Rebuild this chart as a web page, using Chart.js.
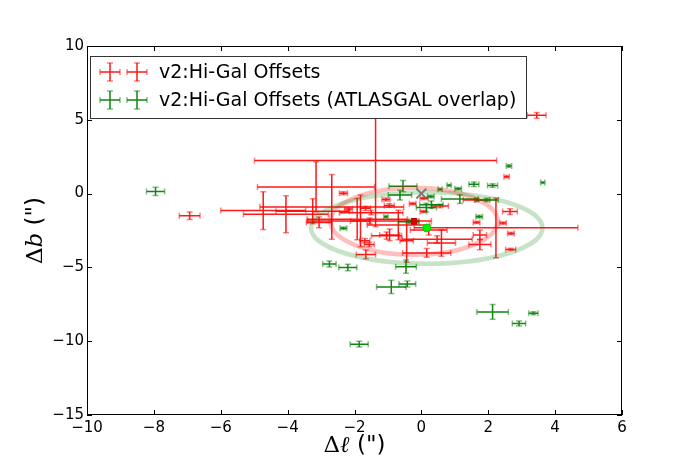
<!DOCTYPE html>
<html>
<head>
<meta charset="utf-8">
<script src="https://cdn.jsdelivr.net/npm/chart.js@4.4.1/dist/chart.umd.min.js"></script>
<style>
  html, body { margin: 0; padding: 0; background: #fff; }
  #wrap { width: 692px; height: 462px; }
</style>
</head>
<body>
<div id="wrap"><canvas id="offsets" width="692" height="462"></canvas></div>
<script>
// tick labels
const xTicks = [-10, -8, -6, -4, -2, 0, 2, 4, 6];
const yTicks = [-15, -10, -5, 0, 5, 10];

// v2:Hi-Gal offsets (arcsec)
const redX    = [3.45, -1.37, -3.15, -2.68, -4.73, -4.05, -6.93, -3.06, -3.25, -2.33, -2.18, -1.92, -1.82, -1.67, -1.06, -0.96, -0.69, -0.44, 0.6, 0.47, 0.16, -1.04, -0.95, -1.56, -1.69, -1.66, -0.26, 0.08, 0.06, 0.56, -0.22, 0.22, 2.23, 1.65, 2.65, 1.65, 2.44, 2.68, 1.75, 1.75, 2.67, 2.55, -1.55, -1.5];
const redY    = [5.3, 2.25, 0.45, -0.9, -1.15, -1.4, -1.5, -1.95, -1.2, 0.02, -1.05, -1.73, -1.85, -1.0, -0.4, -0.8, -2.13, -3.2, -3.35, -3.1, -4.02, -2.85, -2.8, -3.45, -3.2, -4.12, -0.68, -0.32, -1.22, -0.84, -1.88, -2.47, -2.32, -0.43, -1.22, -1.95, -2.0, -2.7, -2.8, -3.45, -3.78, 1.15, -1.85, -1.29];
const redXErr = [0.28, 3.62, 1.75, 2.15, 1.27, 1.27, 0.31, 0.38, 1.1, 0.12, 0.12, 1.5, 0.3, 0.15, 0.12, 0.15, 0.93, 0.2, 0.42, 1.05, 0.72, 0.45, 0.3, 0.15, 0.15, 0.29, 0.1, 0.12, 0.1, 0.25, 0.15, 0.55, 2.45, 0.4, 0.22, 0.1, 0.1, 0.1, 0.2, 0.33, 0.15, 0.08, 1.85, 0.95];
const redYErr = [0.2, 4.5, 1.7, 2.2, 1.28, 1.25, 0.25, 0.36, 0.85, 0.1, 0.1, 1.4, 1.75, 0.15, 0.1, 0.12, 1.0, 1.45, 0.9, 0.25, 0.3, 0.25, 0.4, 0.15, 0.15, 0.3, 0.08, 0.08, 0.08, 0.12, 0.15, 0.34, 2.02, 0.12, 0.2, 0.08, 0.08, 0.08, 0.33, 0.35, 0.08, 0.08, 0.2, 0.15];

// sources that overlap ATLASGAL
const greenX    = [-7.95, -0.55, -0.64, 0.56, 0.83, 1.1, 1.57, 2.13, 2.62, 3.63, 0.28, 1.15, 1.95, 0.3, 0.15, -1.06, 1.73, -2.33, -0.38, -2.75, -2.2, -0.46, -0.9, -0.42, 2.13, 2.92, 3.35, -1.86];
const greenY    = [0.15, 0.5, -0.1, 0.29, 0.56, 0.33, 0.63, 0.55, 1.87, 0.75, -0.2, -0.37, -0.43, -0.75, -0.95, -1.56, -1.56, -2.35, -1.9, -4.77, -5.0, -4.95, -6.32, -6.12, -8.02, -8.8, -8.1, -10.2];
const greenXErr = [0.27, 0.42, 0.35, 0.06, 0.06, 0.1, 0.15, 0.15, 0.08, 0.06, 0.1, 0.55, 0.35, 0.35, 0.3, 0.06, 0.1, 0.1, 0.3, 0.2, 0.27, 0.31, 0.44, 0.25, 0.47, 0.2, 0.14, 0.27];
const greenYErr = [0.28, 0.38, 0.33, 0.06, 0.06, 0.08, 0.15, 0.12, 0.08, 0.06, 0.08, 0.3, 0.12, 0.25, 0.3, 0.08, 0.1, 0.08, 0.1, 0.2, 0.22, 0.45, 0.45, 0.2, 0.5, 0.17, 0.1, 0.2];

// mean offsets and 1-sigma ellipses: [Hi-Gal, ATLASGAL overlap]
const meanX = [-0.22, 0.16];
const meanY = [-1.88, -2.33];
const ellA  = [2.5, 3.46];
const ellB  = [2.27, 2.42];
const originX = [0];
const originY = [0];

const legendLabels = ['v2:Hi-Gal Offsets', 'v2:Hi-Gal Offsets (ATLASGAL overlap)'];

const RED = 'rgba(255,0,0,0.9)', RED_CAP = 'rgba(255,0,0,0.5)';
const GRN = 'rgba(0,122,0,0.92)', GRN_CAP = 'rgba(0,128,0,0.5)';

function pts(xs, ys) { return xs.map((v, i) => ({ x: v, y: ys[i] })); }
function minus(v) { return v < 0 ? '\u2212' + Math.abs(v) : String(v); }

function drawBars(chart, xs, ys, xe, ye, col, capCol) {
  const { ctx, scales: { x, y } } = chart;
  for (let i = 0; i < xs.length; i++) {
    const px = x.getPixelForValue(xs[i]), py = y.getPixelForValue(ys[i]);
    const x0 = x.getPixelForValue(xs[i] - xe[i]), x1 = x.getPixelForValue(xs[i] + xe[i]);
    const y0 = y.getPixelForValue(ys[i] - ye[i]), y1 = y.getPixelForValue(ys[i] + ye[i]);
    ctx.strokeStyle = col;
    ctx.beginPath();
    ctx.moveTo(x0, py); ctx.lineTo(x1, py);
    ctx.moveTo(px, y0); ctx.lineTo(px, y1);
    ctx.stroke();
    ctx.strokeStyle = capCol;
    ctx.beginPath();
    ctx.moveTo(x0, py - 3); ctx.lineTo(x0, py + 3);
    ctx.moveTo(x1, py - 3); ctx.lineTo(x1, py + 3);
    ctx.moveTo(px - 3, y0); ctx.lineTo(px + 3, y0);
    ctx.moveTo(px - 3, y1); ctx.lineTo(px + 3, y1);
    ctx.stroke();
  }
}

function legendCross(ctx, cx, cy, col, capCol) {
  ctx.strokeStyle = col;
  ctx.beginPath();
  ctx.moveTo(cx - 10, cy); ctx.lineTo(cx + 10, cy);
  ctx.moveTo(cx, cy - 9); ctx.lineTo(cx, cy + 9);
  ctx.stroke();
  ctx.strokeStyle = capCol;
  ctx.beginPath();
  ctx.moveTo(cx - 10, cy - 3); ctx.lineTo(cx - 10, cy + 3);
  ctx.moveTo(cx + 10, cy - 3); ctx.lineTo(cx + 10, cy + 3);
  ctx.moveTo(cx - 3, cy - 9); ctx.lineTo(cx + 3, cy - 9);
  ctx.moveTo(cx - 3, cy + 9); ctx.lineTo(cx + 3, cy + 9);
  ctx.stroke();
}

const mplPlugin = {
  id: 'mpl',
  beforeDatasetsDraw(chart) {
    const { ctx, chartArea: a, scales: { x, y } } = chart;
    ctx.save();
    ctx.beginPath();
    ctx.rect(a.left, a.top, a.right - a.left, a.bottom - a.top);
    ctx.clip();
    ctx.lineWidth = 1.5;
    drawBars(chart, redX, redY, redXErr, redYErr, RED, RED_CAP);
    drawBars(chart, greenX, greenY, greenXErr, greenYErr, GRN, GRN_CAP);
    // error ellipses
    const ellCols = ['rgba(255,0,0,0.25)', 'rgba(0,128,0,0.22)'];
    for (let k = 0; k < meanX.length; k++) {
      const cx = x.getPixelForValue(meanX[k]), cy = y.getPixelForValue(meanY[k]);
      const rx = Math.abs(x.getPixelForValue(meanX[k] + ellA[k]) - cx);
      const ry = Math.abs(y.getPixelForValue(meanY[k] + ellB[k]) - cy);
      ctx.strokeStyle = ellCols[k];
      ctx.lineWidth = 4.5;
      ctx.beginPath();
      ctx.ellipse(cx, cy, rx, ry, 0, 0, Math.PI * 2);
      ctx.stroke();
    }
    ctx.restore();
  },
  afterDatasetsDraw(chart) {
    const { ctx } = chart;
    // legend box, upper left inside the axes
    ctx.save();
    ctx.fillStyle = '#fff';
    ctx.fillRect(90.5, 56.5, 436, 62);
    ctx.strokeStyle = '#333';
    ctx.lineWidth = 1;
    ctx.strokeRect(90.5, 56.5, 436, 62);
    ctx.lineWidth = 1.5;
    const rows = [72, 100];
    const cols = [[RED, RED_CAP], [GRN, GRN_CAP]];
    rows.forEach((ry, i) => {
      legendCross(ctx, 110, ry, cols[i][0], cols[i][1]);
      legendCross(ctx, 137, ry, cols[i][0], cols[i][1]);
    });
    ctx.fillStyle = '#000';
    ctx.font = '19px "DejaVu Sans"';
    ctx.textBaseline = 'middle';
    ctx.textAlign = 'left';
    rows.forEach((ry, i) => ctx.fillText(legendLabels[i], 159, ry + 1));
    ctx.restore();
  },
  afterDraw(chart) {
    const { ctx, chartArea: a, scales: { x, y } } = chart;
    ctx.save();
    ctx.strokeStyle = '#000';
    ctx.lineWidth = 1;
    ctx.strokeRect(a.left + 0.5, a.top + 0.5, a.right - a.left - 1, a.bottom - a.top - 1);
    ctx.beginPath();
    xTicks.forEach(v => {
      const px = Math.round(x.getPixelForValue(v)) + 0.5;
      ctx.moveTo(px, a.bottom); ctx.lineTo(px, a.bottom - 5);
      ctx.moveTo(px, a.top); ctx.lineTo(px, a.top + 5);
    });
    yTicks.forEach(v => {
      const py = Math.round(y.getPixelForValue(v)) + 0.5;
      ctx.moveTo(a.left, py); ctx.lineTo(a.left + 5, py);
      ctx.moveTo(a.right, py); ctx.lineTo(a.right - 5, py);
    });
    ctx.stroke();
    // axis titles, mathtext style
    ctx.fillStyle = '#000';
    ctx.textBaseline = 'middle';
    const parts = (segs) => segs.reduce((w, s) => { ctx.font = s[1]; return w + ctx.measureText(s[0]).width; }, 0);
    const xs = [['\u0394', '23px "DejaVu Serif"'], ['\u2113', 'italic 23px "DejaVu Serif"'], [' (")', '23px "DejaVu Sans"']];
    let w = parts(xs);
    let cx = (a.left + a.right) / 2 - w / 2;
    xs.forEach(s => { ctx.font = s[1]; ctx.textAlign = 'left'; ctx.fillText(s[0], cx, 446); cx += ctx.measureText(s[0]).width; });
    const ys = [['\u0394', '23px "DejaVu Serif"'], ['b', 'italic 23px "DejaVu Serif"'], [' (")', '23px "DejaVu Sans"']];
    w = parts(ys);
    ctx.translate(36, (a.top + a.bottom) / 2);
    ctx.rotate(-Math.PI / 2);
    cx = -w / 2;
    ys.forEach(s => { ctx.font = s[1]; ctx.textAlign = 'left'; ctx.fillText(s[0], cx, 0); cx += ctx.measureText(s[0]).width; });
    ctx.restore();
  }
};

new Chart(document.getElementById('offsets'), {
  type: 'scatter',
  data: {
    datasets: [
      { label: legendLabels[0], data: pts(redX, redY), pointRadius: 0, pointHoverRadius: 0 },
      { label: legendLabels[1], data: pts(greenX, greenY), pointRadius: 0, pointHoverRadius: 0 },
      { label: 'origin', data: pts(originX, originY), pointStyle: 'crossRot', pointRadius: 7,
        borderColor: 'rgba(110,110,110,0.9)', borderWidth: 2 },
      { label: 'Hi-Gal mean', data: pts(meanX.slice(0, 1), meanY.slice(0, 1)), pointStyle: 'rect', pointRadius: 4,
        backgroundColor: '#e00000', borderColor: '#b00000', borderWidth: 1 },
      { label: 'ATLASGAL mean', data: pts(meanX.slice(1), meanY.slice(1)), pointStyle: 'circle', pointRadius: 4,
        backgroundColor: '#00ee00', borderColor: '#00cc00', borderWidth: 1 }
    ]
  },
  options: {
    responsive: false,
    animation: false,
    events: [],
    layout: { padding: { left: 0, right: 70, top: 46, bottom: 0 } },
    plugins: { legend: { display: false }, tooltip: { enabled: false } },
    scales: {
      x: {
        type: 'linear', min: -10, max: 6,
        afterBuildTicks: s => { s.ticks = xTicks.map(v => ({ value: v })); },
        afterFit: s => { s.height = 47; },
        grid: { display: false, drawTicks: false },
        border: { display: false },
        ticks: { callback: minus, color: '#000', padding: 4, maxRotation: 0, font: { family: 'DejaVu Sans', size: 15 } }
      },
      y: {
        type: 'linear', min: -15, max: 10,
        afterBuildTicks: s => { s.ticks = yTicks.map(v => ({ value: v })); },
        afterFit: s => { s.width = 87; },
        grid: { display: false, drawTicks: false },
        border: { display: false },
        ticks: { callback: minus, color: '#000', padding: 3, font: { family: 'DejaVu Sans', size: 15 } }
      }
    }
  },
  plugins: [mplPlugin]
});
</script>
</body>
</html>
